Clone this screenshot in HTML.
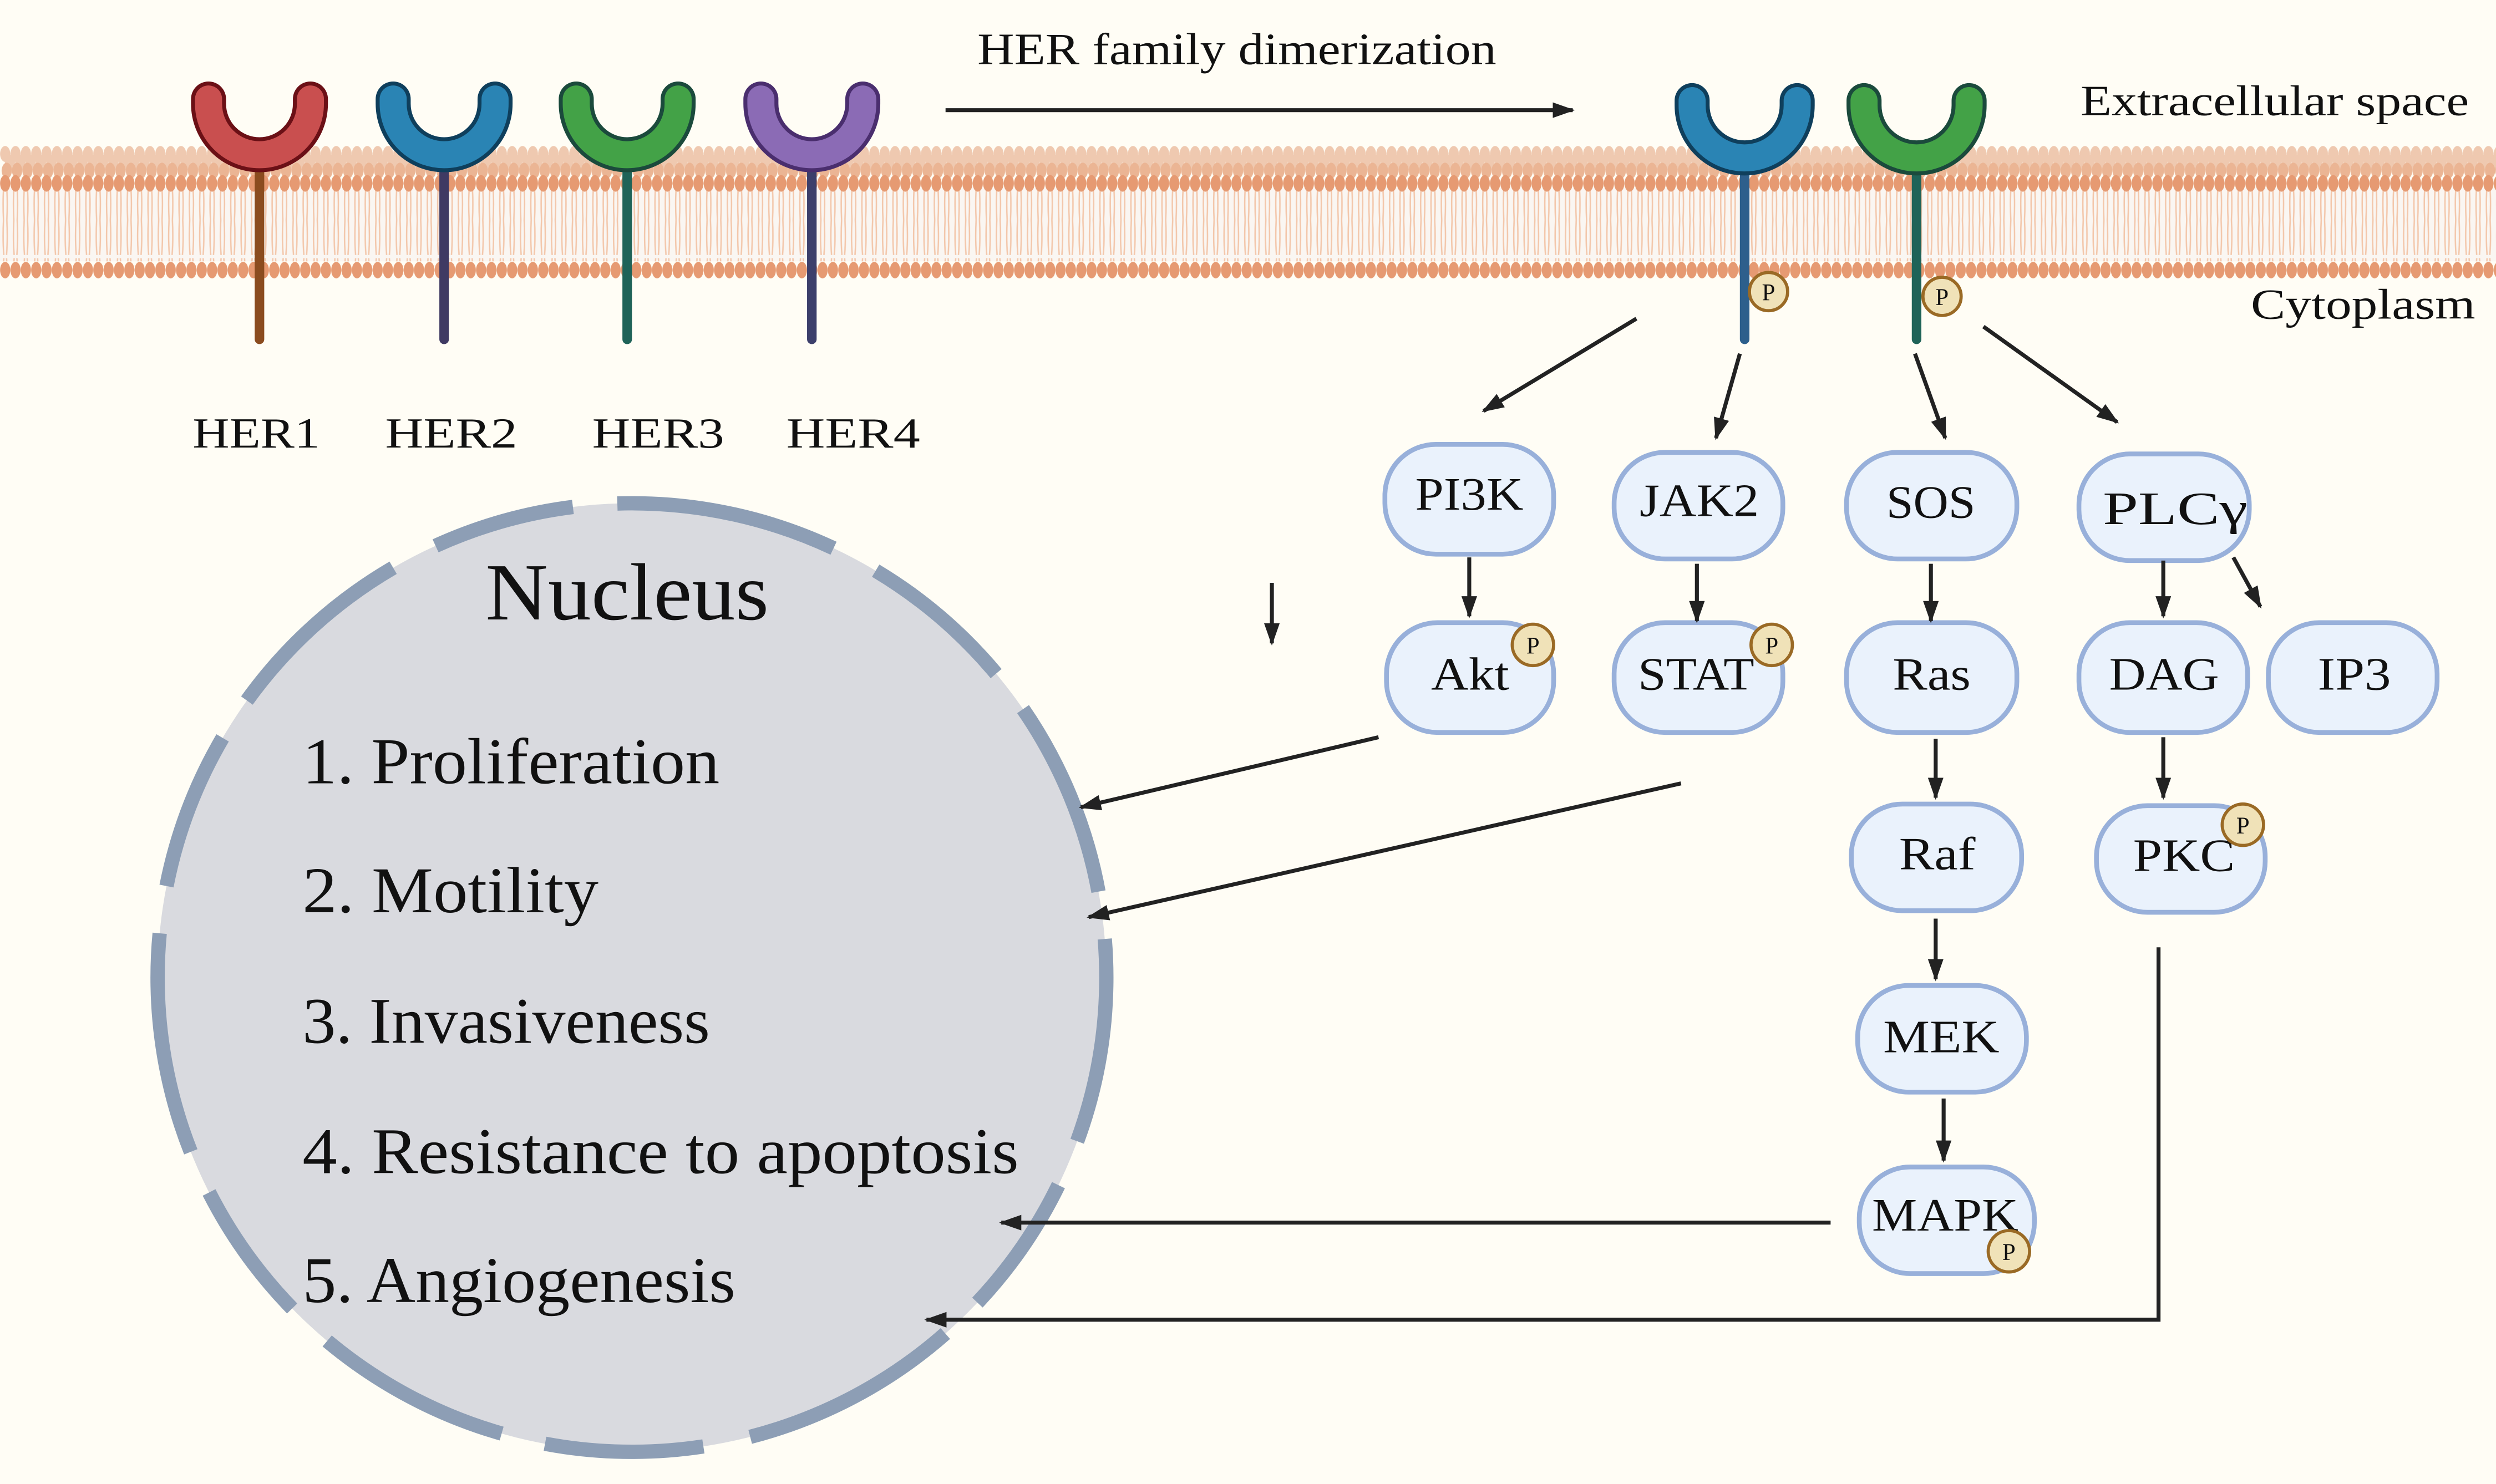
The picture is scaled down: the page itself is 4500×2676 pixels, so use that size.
<!DOCTYPE html>
<html><head><meta charset="utf-8"><style>
html,body{margin:0;padding:0;background:#fffdf5;}
svg{display:block;}
text{font-family:"Liberation Serif",serif;fill:#111;}
</style></head><body>
<svg width="4500" height="2676" viewBox="0 0 1568 932" xmlns="http://www.w3.org/2000/svg">
<defs>
<marker id="a" viewBox="0 0 10 10" refX="9" refY="5" markerWidth="14" markerHeight="14" markerUnits="userSpaceOnUse" orient="auto"><path d="M0,1.5 L10,5 L0,8.5 Z" fill="#222"/></marker>
<pattern id="hTop1" width="6.5" height="12" patternUnits="userSpaceOnUse"><ellipse cx="3.25" cy="6" rx="3.2" ry="5" fill="#efc9b0"/></pattern>
<pattern id="hTop2" width="6.5" height="12" patternUnits="userSpaceOnUse"><ellipse cx="3.25" cy="6" rx="3.2" ry="5" fill="#ebb594"/></pattern>
<pattern id="hSolid" width="6.5" height="12" patternUnits="userSpaceOnUse"><ellipse cx="3.25" cy="6" rx="3.2" ry="5.2" fill="#e69a72"/></pattern>
<pattern id="tails" width="6.5" height="46" patternUnits="userSpaceOnUse"><path d="M2.2,0 Q1.6,12 2.4,22 M4.3,0 Q4.9,12 4.1,22 M2.4,24 Q1.6,34 2.2,46 M4.1,24 Q4.9,34 4.3,46" stroke="#f3c7ab" stroke-width="0.9" fill="none"/></pattern>
</defs>
<rect width="1568" height="932" fill="#fffdf5"/>
<rect x="0" y="118" width="1568" height="46" fill="#faf6f2"/>
<rect x="0" y="118" width="1568" height="46" fill="url(#tails)"/>
<g transform="translate(0,90.5)"><rect width="1568" height="12" fill="url(#hTop1)"/></g>
<g transform="translate(3,96)"><rect width="1568" height="12" fill="url(#hTop1)"/></g>
<g transform="translate(1,101)"><rect width="1568" height="12" fill="url(#hTop2)"/></g>
<g transform="translate(0,109)"><rect width="1568" height="12" fill="url(#hSolid)"/></g>
<g transform="translate(0,163.5)"><rect width="1568" height="12" fill="url(#hSolid)"/></g>

<g stroke-linecap="round" fill="none">
 <line x1="163" y1="100" x2="163" y2="213" stroke="#8b4c1f" stroke-width="6"/>
 <line x1="279" y1="100" x2="279" y2="213" stroke="#3f3a63" stroke-width="6"/>
 <line x1="394" y1="100" x2="394" y2="213" stroke="#1f6358" stroke-width="6"/>
 <line x1="510" y1="100" x2="510" y2="213" stroke="#3c3f6b" stroke-width="6"/>
 <line x1="1096" y1="100" x2="1096" y2="213" stroke="#2d5f8c" stroke-width="6"/>
 <line x1="1204" y1="100" x2="1204" y2="213" stroke="#1f6358" stroke-width="6"/>
 <path d="M131,62 L131,65 A32,32 0 0 0 195,65 L195,62" stroke="#6b1016" stroke-width="22"/>
 <path d="M131,62 L131,65 A32,32 0 0 0 195,65 L195,62" stroke="#c94f4f" stroke-width="17"/>
 <path d="M247,62 L247,65 A32,32 0 0 0 311,65 L311,62" stroke="#0f3f5c" stroke-width="22"/>
 <path d="M247,62 L247,65 A32,32 0 0 0 311,65 L311,62" stroke="#2a84b4" stroke-width="17"/>
 <path d="M362,62 L362,65 A32,32 0 0 0 426,65 L426,62" stroke="#1b4a3c" stroke-width="22"/>
 <path d="M362,62 L362,65 A32,32 0 0 0 426,65 L426,62" stroke="#43a247" stroke-width="17"/>
 <path d="M478,62 L478,65 A32,32 0 0 0 542,65 L542,62" stroke="#4a2e6e" stroke-width="22"/>
 <path d="M478,62 L478,65 A32,32 0 0 0 542,65 L542,62" stroke="#8b6bb5" stroke-width="17"/>
 <path d="M1063,63 L1063,66 A33,33 0 0 0 1129,66 L1129,63" stroke="#0f3f5c" stroke-width="22"/>
 <path d="M1063,63 L1063,66 A33,33 0 0 0 1129,66 L1129,63" stroke="#2a84b4" stroke-width="17"/>
 <path d="M1171,63 L1171,66 A33,33 0 0 0 1237,66 L1237,63" stroke="#1b4a3c" stroke-width="22"/>
 <path d="M1171,63 L1171,66 A33,33 0 0 0 1237,66 L1237,63" stroke="#43a247" stroke-width="17"/>
</g>
<g font-size="15" text-anchor="middle">
 <circle cx="1111" cy="183" r="12" fill="#f0e2b8" stroke="#9a6a25" stroke-width="2"/><text x="1111" y="188.5">P</text>
 <circle cx="1220" cy="186" r="12" fill="#f0e2b8" stroke="#9a6a25" stroke-width="2"/><text x="1220" y="191.5">P</text>
</g>

<text x="614" y="40" font-size="28" textLength="326" lengthAdjust="spacingAndGlyphs">HER family dimerization</text>
<line x1="594" y1="69" x2="988" y2="69" stroke="#222" stroke-width="2.5" marker-end="url(#a)"/>
<text x="1307" y="72" font-size="27" textLength="244" lengthAdjust="spacingAndGlyphs">Extracellular space</text>
<text x="1414" y="200" font-size="27" textLength="141" lengthAdjust="spacingAndGlyphs">Cytoplasm</text>
<g font-size="27">
<text x="121" y="281" textLength="80" lengthAdjust="spacingAndGlyphs">HER1</text>
<text x="242" y="281" textLength="83" lengthAdjust="spacingAndGlyphs">HER2</text>
<text x="372" y="281" textLength="83" lengthAdjust="spacingAndGlyphs">HER3</text>
<text x="494" y="281" textLength="84" lengthAdjust="spacingAndGlyphs">HER4</text>
</g>

<circle cx="397" cy="614" r="298" fill="#d9dadf"/>
<circle cx="397" cy="614" r="298" fill="none" stroke="#8d9eb5" stroke-width="9" stroke-dasharray="125 30 90 28 140 30 100 28" stroke-dashoffset="20"/>
<text x="305" y="389" font-size="51" textLength="178" lengthAdjust="spacingAndGlyphs">Nucleus</text>
<g font-size="41">
<text x="190" y="492" textLength="262" lengthAdjust="spacingAndGlyphs">1. Proliferation</text>
<text x="190" y="573" textLength="186" lengthAdjust="spacingAndGlyphs">2. Motility</text>
<text x="190" y="655" textLength="256" lengthAdjust="spacingAndGlyphs">3. Invasiveness</text>
<text x="190" y="737" textLength="450" lengthAdjust="spacingAndGlyphs">4. Resistance to apoptosis</text>
<text x="190" y="818" textLength="272" lengthAdjust="spacingAndGlyphs">5. Angiogenesis</text>
</g>

<g fill="#eaf2fc" stroke="#98b0da" stroke-width="3">
<rect x="870" y="279" width="106" height="69" rx="32"/>
<rect x="1014" y="284" width="106" height="67" rx="32"/>
<rect x="1160" y="284" width="107" height="67" rx="32"/>
<rect x="1306" y="285" width="107" height="67" rx="32"/>
<rect x="871" y="391" width="105" height="69" rx="32"/>
<rect x="1014" y="391" width="106" height="69" rx="32"/>
<rect x="1160" y="391" width="107" height="69" rx="32"/>
<rect x="1306" y="391" width="106" height="69" rx="32"/>
<rect x="1425" y="391" width="106" height="69" rx="32"/>
<rect x="1163" y="505" width="107" height="67" rx="32"/>
<rect x="1317" y="506" width="106" height="67" rx="32"/>
<rect x="1167" y="619" width="106" height="67" rx="32"/>
<rect x="1168" y="733" width="110" height="67" rx="32"/>
</g>
<g font-size="29" lengthAdjust="spacingAndGlyphs">
<text x="889" y="320" textLength="68" lengthAdjust="spacingAndGlyphs">PI3K</text>
<text x="1030" y="324" textLength="75" lengthAdjust="spacingAndGlyphs">JAK2</text>
<text x="1185" y="325" textLength="56" lengthAdjust="spacingAndGlyphs">SOS</text>
<text x="1321" y="329" textLength="91" lengthAdjust="spacingAndGlyphs">PLCγ</text>
<text x="899" y="433" textLength="49" lengthAdjust="spacingAndGlyphs">Akt</text>
<text x="1029" y="433" textLength="73" lengthAdjust="spacingAndGlyphs">STAT</text>
<text x="1189" y="433" textLength="49" lengthAdjust="spacingAndGlyphs">Ras</text>
<text x="1325" y="433" textLength="69" lengthAdjust="spacingAndGlyphs">DAG</text>
<text x="1456" y="433" textLength="46" lengthAdjust="spacingAndGlyphs">IP3</text>
<text x="1193" y="546" textLength="48" lengthAdjust="spacingAndGlyphs">Raf</text>
<text x="1340" y="547" textLength="64" lengthAdjust="spacingAndGlyphs">PKC</text>
<text x="1183" y="661" textLength="73" lengthAdjust="spacingAndGlyphs">MEK</text>
<text x="1176" y="773" textLength="92" lengthAdjust="spacingAndGlyphs">MAPK</text>
</g>
<g font-size="15" text-anchor="middle">
 <circle cx="963" cy="405" r="13" fill="#f0e2b8" stroke="#9a6a25" stroke-width="2"/><text x="963" y="410.5">P</text>
 <circle cx="1113" cy="405" r="13" fill="#f0e2b8" stroke="#9a6a25" stroke-width="2"/><text x="1113" y="410.5">P</text>
 <circle cx="1409" cy="518" r="13" fill="#f0e2b8" stroke="#9a6a25" stroke-width="2"/><text x="1409" y="523.5">P</text>
 <circle cx="1262" cy="786" r="13" fill="#f0e2b8" stroke="#9a6a25" stroke-width="2"/><text x="1262" y="791.5">P</text>
</g>

<g stroke="#222" stroke-width="2.5" fill="none" marker-end="url(#a)">
<line x1="1028" y1="200" x2="932" y2="258"/>
<line x1="1093" y1="222" x2="1078" y2="275"/>
<line x1="1203" y1="222" x2="1222" y2="275"/>
<line x1="1246" y1="205" x2="1330" y2="265"/>
<line x1="923" y1="350" x2="923" y2="387"/>
<line x1="1066" y1="354" x2="1066" y2="390"/>
<line x1="1213" y1="354" x2="1213" y2="390"/>
<line x1="1359" y1="352" x2="1359" y2="387"/>
<line x1="1403" y1="350" x2="1420" y2="381"/>
<line x1="1216" y1="464" x2="1216" y2="501"/>
<line x1="1359" y1="463" x2="1359" y2="501"/>
<line x1="1216" y1="577" x2="1216" y2="615"/>
<line x1="1221" y1="690" x2="1221" y2="729"/>
<line x1="799" y1="366" x2="799" y2="404"/>
<line x1="866" y1="463" x2="679" y2="507"/>
<line x1="1056" y1="492" x2="684" y2="576"/>
<line x1="1150" y1="768" x2="629" y2="768"/>
<polyline points="1356,595 1356,829 582,829"/>
</g>
</svg>
</body></html>
